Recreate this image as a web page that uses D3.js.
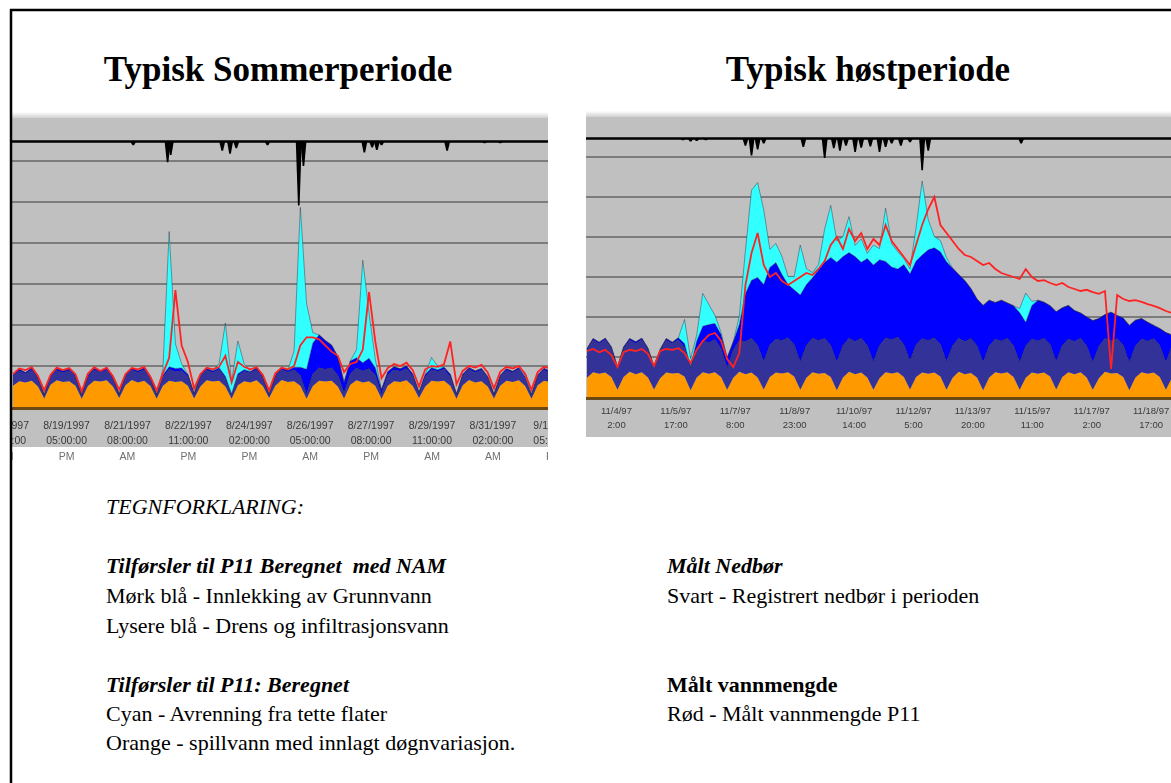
<!DOCTYPE html>
<html lang="no">
<head>
<meta charset="UTF-8" />
<title>Typisk sommer- og høstperiode</title>
<script src="https://d3js.org/d3.v7.min.js"></script>
<style>
  body { margin: 0; background: #fff; }
  svg { display: block; }
  .title { font-family: "Liberation Serif", "Times New Roman", serif; font-weight: bold; font-size: 35px; text-anchor: middle; }
  .legend { font-family: "Liberation Serif", "Times New Roman", serif; font-size: 22px; fill: #000; white-space: pre; }
</style>
</head>
<body>
<svg id="canvas" width="1171" height="783"></svg>
<script>
// sommerperiode: ett punkt hver 4. time fra 18.08.1997 kl 07:00
const summerStart = new Date(1997, 7, 18, 7);
const summerEnd = new Date(1997, 8, 1, 13, 36);
const summerOrange = [
  52,63,60,64,50,21, 54,65,61,63,52,20, 51,64,62,65,50,22, 53,66,60,64,51,20,
  52,64,61,63,52,21, 50,65,62,64,50,20, 53,63,60,65,51,22, 52,66,61,63,52,20,
  51,64,62,64,50,21, 54,65,60,63,52,20, 52,63,61,65,51,22, 50,64,62,64,52,20,
  53,66,60,63,50,21, 52,64,61,65,51,20, 53,64,61];
const summerNavy = [
  22,25,21,27,19,8, 20,24,23,26,21,9, 23,26,22,25,20,8, 21,24,24,27,19,9,
  22,28,25,26,22,10, 24,25,22,28,20,9, 23,24,23,26,21,8, 22,26,24,28,25,12,
  30,32,30,32,28,14, 28,30,28,31,26,12, 26,28,26,29,24,11, 24,27,25,28,22,10,
  23,26,24,27,21,9, 22,25,23,27,20,9, 22,26,23];
const summerBlue = [
  3,4,3,4,3,1, 3,4,4,4,3,1, 3,4,3,5,3,1, 3,4,4,4,3,1,
  4,6,8,6,5,2, 3,4,4,4,5,3, 5,4,3,4,3,1, 3,4,4,6,20,60,
  75,80,70,55,45,25, 30,25,20,25,18,10, 8,7,6,6,5,3, 5,5,4,5,6,2,
  4,4,4,4,3,1, 3,4,3,4,3,1, 3,4,3];
const summerCyan = [
  0,0,0,0,0,0, 0,0,0,0,0,0, 0,0,0,0,0,0, 0,0,0,0,0,0,
  15,330,60,10,0,0, 0,0,0,10,130,30, 80,15,0,0,0,0, 0,0,0,40,390,160,
  25,0,0,0,0,0, 0,20,250,110,20,0, 0,0,0,0,0,0, 0,25,8,0,0,0,
  0,0,0,0,0,0, 0,0,0,0,10,0, 0,0,0];
const summerRed = [
  80,94,90,97,76,40, 78,96,90,95,80,38, 82,97,88,96,75,42, 80,95,92,98,74,40,
  82,120,285,150,110,45, 80,96,92,98,125,60, 110,98,92,97,78,40, 82,96,92,100,150,170,
  170,165,150,135,125,85, 105,110,140,280,160,70, 95,105,100,108,90,50, 92,100,98,104,160,55,
  88,100,96,103,84,45, 86,98,94,100,80,42, 85,98,94];
const summerRainHour = [77, 99, 101, 134, 139, 143, 163, 183, 186, 225, 230, 233, 236, 278, 302, 312];
const summerRainMm = [0.6, 3.4, 2.2, 1.5, 2.0, 1.1, 0.6, 10.5, 4.0, 1.8, 1.0, 1.4, 0.6, 1.5, 0.3, 0.3];
const summerTicks = ["1997-08-18 02:00", "1997-08-19 17:00", "1997-08-21 08:00", "1997-08-22 23:00",
  "1997-08-24 14:00", "1997-08-26 05:00", "1997-08-27 20:00", "1997-08-29 11:00",
  "1997-08-31 02:00", "1997-09-01 17:00"];

// høstperiode: ett punkt hver 4. time fra 03.11.1997 kl 07:00
const autumnStart = new Date(1997, 10, 3, 7);
const autumnEnd = new Date(1997, 10, 19, 7);
const autumnOrange = [
  48,62,58,61,50,18, 50,63,57,62,49,19, 47,61,59,60,51,17, 49,62,58,62,50,18,
  48,63,57,61,49,19, 50,61,59,62,51,18, 48,62,58,60,50,17, 49,63,57,61,49,18,
  47,62,59,62,50,19, 50,61,58,61,51,18, 48,63,57,60,49,17, 49,62,59,62,50,18,
  48,61,58,61,51,19, 50,62,57,62,49,18, 47,63,59,60,50,17, 49,62,58,61,50,18, 48];
const autumnNavy = [
  70,80,76,82,72,55, 72,79,77,81,70,56, 69,81,75,83,73,54, 71,80,78,82,71,55,
  70,79,82,86,80,70, 80,84,82,86,80,70, 81,85,83,87,79,71, 80,84,82,86,80,70,
  82,86,84,88,81,72, 81,85,83,87,80,71, 80,84,82,86,79,70, 79,83,81,85,78,69,
  80,84,82,86,80,70, 79,83,82,85,79,69, 80,84,81,86,80,70, 79,83,82,85,79,69, 80];
const autumnBlue = [
  3,4,3,4,3,2, 3,4,4,4,3,2, 3,4,3,5,10,5, 20,35,45,40,35,25,
  20,40,120,145,170,192, 194,191,165,133,137,167, 152,151,177,190,220,249, 222,214,212,190,217,242,
  214,191,182,170,200,217, 209,209,227,225,232,249, 194,159,152,125,117,142, 114,91,102,88,100,124,
  59,84,102,90,97,124, 94,84,77,63,72,104, 69,59,72,58,67,92, 64,51,47,33,42,74, 27];
const autumnCyan = [
  0,0,0,0,0,0, 0,0,0,0,0,0, 0,0,0,0,60,20, 15,82,50,20,5,0,
  0,20,107,225,237,187, 45,48,45,20,33,125, 40,13,13,83,130,53, 50,90,28,58,13,50,
  28,133,58,43,15,12, 83,185,75,28,28,10, 0,0,0,0,0,0, 0,0,0,0,0,10,
  73,10,0,0,0,0, 0,0,0,0,0,0, 0,0,0,0,0,0, 0,0,0,0,0,0, 0];
const autumnRed = [
  115,120,112,118,105,75, 112,118,115,120,108,78, 115,120,118,122,110,85, 118,140,155,160,140,95,
  75,110,280,360,410,330, 300,310,290,280,290,300, 310,305,320,340,380,400, 370,420,390,410,370,395,
  380,430,390,370,350,330, 380,430,470,500,430,410, 390,370,355,350,340,330, 335,320,310,305,300,295,
  320,300,290,292,285,280, 285,275,270,265,268,262, 258,265,70,255,245,240, 242,238,232,228,222,215, 210];
const autumnRainHour = [63, 68, 72, 78, 104, 108, 112, 116, 142, 156, 162, 166, 170, 176, 180, 186, 192, 196, 200, 206, 212, 220, 224, 285];
const autumnRainMm = [0.3, 0.5, 0.4, 0.3, 1.2, 2.8, 1.8, 0.8, 1.4, 3.2, 1.6, 2.0, 1.2, 2.2, 1.5, 1.3, 2.2, 1.4, 0.8, 1.2, 0.6, 5.2, 2.0, 0.8];
const autumnTicks = ["1997-11-04 02:00", "1997-11-05 17:00", "1997-11-07 08:00", "1997-11-08 23:00",
  "1997-11-10 14:00", "1997-11-12 05:00", "1997-11-13 20:00", "1997-11-15 11:00",
  "1997-11-17 02:00", "1997-11-18 17:00"];

const seriesKeys = ["orange", "navy", "blue", "cyan"];
const seriesColors = { orange: "#ff9900", navy: "#333399", blue: "#0000ff", cyan: "#33ffff" };

const parseTick = d3.timeParse("%Y-%m-%d %H:%M");
const svg = d3.select("#canvas");
const defs = svg.append("defs");
defs.append("filter").attr("id", "soft").append("feGaussianBlur").attr("stdDeviation", 0.6);
defs.append("filter").attr("id", "softText").append("feGaussianBlur").attr("stdDeviation", 0.45);
const grad = defs.append("linearGradient").attr("id", "topfade").attr("x1", 0).attr("x2", 0).attr("y1", 0).attr("y2", 1);
grad.append("stop").attr("offset", 0).attr("stop-color", "#ffffff");
grad.append("stop").attr("offset", 1).attr("stop-color", "#d0d0d0");

function drawChart(cfg) {
  const clipId = "clip-" + cfg.id;
  defs.append("clipPath").attr("id", clipId)
    .append("rect").attr("x", cfg.left).attr("y", cfg.top - 6)
    .attr("width", cfg.right - cfg.left).attr("height", cfg.imgBottom - cfg.top + 6);

  const g = svg.append("g").attr("clip-path", `url(#${clipId})`);

  const x = d3.scaleTime().domain([cfg.start, cfg.end]).range([cfg.left + 1, cfg.xEnd]);
  const y = d3.scaleLinear().domain([0, 700]).range([cfg.zeroY, cfg.zeroY - 7 * cfg.gridPx]);
  const rain = d3.scaleLinear().domain([0, 10]).range([cfg.rainY, cfg.rainY + 61]);

  // bakgrunn
  g.append("rect").attr("x", cfg.left).attr("y", cfg.top - 6).attr("width", cfg.right - cfg.left).attr("height", 6)
    .attr("fill", "url(#topfade)");
  g.append("rect").attr("x", cfg.left).attr("y", cfg.top).attr("width", cfg.right - cfg.left)
    .attr("height", cfg.grayBottom - cfg.top).attr("fill", "#c0c0c0");

  const plot = g.append("g").attr("filter", "url(#soft)");

  // rutenett
  plot.selectAll(".grid").data([100, 200, 300, 400, 500, 600]).enter().append("line")
    .attr("x1", cfg.left).attr("x2", cfg.right)
    .attr("y1", (d) => y(d)).attr("y2", (d) => y(d))
    .attr("stroke", "#7c7c7c").attr("stroke-width", 2);

  // nedbør, henger ned fra toppen
  plot.append("line").attr("x1", cfg.left).attr("x2", cfg.right)
    .attr("y1", cfg.rainY).attr("y2", cfg.rainY)
    .attr("stroke", "#000").attr("stroke-width", 2.5);
  const rainData = cfg.rainHour.map((h, i) => ({ date: d3.timeHour.offset(cfg.start, h), mm: cfg.rainMm[i] }));
  plot.selectAll(".rain").data(rainData).enter().append("path")
    .attr("fill", "#000")
    .attr("d", (d) => {
      const cx = x(d.date), b = rain(0), t = rain(d.mm);
      return `M${cx - 3},${b} L${cx + 3},${b} L${cx + 0.8},${t} L${cx - 0.8},${t} Z`;
    });

  // stablede arealer
  const table = cfg.orange.map((v, i) => ({
    date: d3.timeHour.offset(cfg.start, 4 * i),
    orange: v, navy: cfg.navy[i], blue: cfg.blue[i], cyan: cfg.cyan[i], red: cfg.red[i]
  }));
  const stacked = d3.stack().keys(seriesKeys)(table);
  const area = d3.area().x((d) => x(d.data.date)).y0((d) => y(d[0])).y1((d) => y(d[1]));
  const topLine = d3.line().x((d) => x(d.data.date)).y((d) => y(d[1]));
  plot.selectAll(".layer").data(stacked).enter().append("path")
    .attr("fill", (d) => seriesColors[d.key]).attr("d", area);
  plot.selectAll(".edge").data(stacked.slice(1)).enter().append("path")
    .attr("fill", "none").attr("stroke", "#22223a").attr("stroke-width", 0.7).attr("stroke-opacity", 0.6)
    .attr("d", topLine);

  // målt vannmengde
  plot.append("path").datum(table)
    .attr("fill", "none").attr("stroke", "#ff2424").attr("stroke-width", 1.8)
    .attr("d", d3.line().x((d) => x(d.date)).y((d) => y(d.red)));

  // bunnlinje
  plot.append("line").attr("x1", cfg.left).attr("x2", cfg.right)
    .attr("y1", cfg.zeroY + 1.5).attr("y2", cfg.zeroY + 1.5)
    .attr("stroke", "#6a4812").attr("stroke-width", 3);

  // tidsakse
  const ax = g.append("g").attr("transform", `translate(0,${cfg.zeroY})`)
    .attr("filter", "url(#softText)")
    .call(d3.axisBottom(x).tickValues(cfg.ticks.map(parseTick)).tickSize(0).tickFormat(() => ""));
  ax.select(".domain").remove();
  ax.selectAll(".tick text").remove();
  ax.selectAll(".tick").each(function (d) {
    const t = d3.select(this);
    cfg.rows.forEach((row) => {
      t.append("text").attr("y", row.dy).attr("text-anchor", "middle")
        .attr("font-family", "'Liberation Sans', Arial, sans-serif")
        .attr("font-size", cfg.labelSize).attr("fill", row.color)
        .text(d3.timeFormat(row.fmt)(d));
    });
  });
}

drawChart({
  id: "summer", left: 12, right: 548, xEnd: 548, top: 118, grayBottom: 447, imgBottom: 470,
  zeroY: 407, gridPx: 41, rainY: 141.5,
  start: summerStart, end: summerEnd,
  orange: summerOrange, navy: summerNavy, blue: summerBlue, cyan: summerCyan, red: summerRed,
  rainHour: summerRainHour, rainMm: summerRainMm, ticks: summerTicks, labelSize: 10.5,
  rows: [
    { fmt: "%-m/%-d/%Y", dy: 22, color: "#3a3a3a" },
    { fmt: "%I:%M:%S", dy: 37, color: "#3a3a3a" },
    { fmt: "%p", dy: 53, color: "#707070" }
  ]
});

drawChart({
  id: "autumn", left: 586, right: 1171, xEnd: 1172, top: 117, grayBottom: 437, imgBottom: 440,
  zeroY: 397, gridPx: 40, rainY: 138.5,
  start: autumnStart, end: autumnEnd,
  orange: autumnOrange, navy: autumnNavy, blue: autumnBlue, cyan: autumnCyan, red: autumnRed,
  rainHour: autumnRainHour, rainMm: autumnRainMm, ticks: autumnTicks, labelSize: 9.5,
  rows: [
    { fmt: "%-m/%-d/%y", dy: 17, color: "#3a3a3a" },
    { fmt: "%-H:%M", dy: 31, color: "#3a3a3a" }
  ]
});

// ramme
svg.append("line").attr("x1", 11).attr("x2", 11).attr("y1", 9).attr("y2", 783).attr("stroke", "#000").attr("stroke-width", 2.5);
svg.append("line").attr("x1", 10).attr("x2", 1171).attr("y1", 10).attr("y2", 10).attr("stroke", "#000").attr("stroke-width", 2.5);

// titler
svg.append("text").attr("class", "title").attr("x", 278).attr("y", 81).text("Typisk Sommerperiode");
svg.append("text").attr("class", "title").attr("x", 868).attr("y", 81).text("Typisk høstperiode");

// tegnforklaring
const legendLines = [
  { x: 106, y: 514, text: "TEGNFORKLARING:", style: "italic", weight: "normal" },
  { x: 106, y: 573, text: "Tilførsler til P11 Beregnet  med NAM", style: "italic", weight: "bold" },
  { x: 106, y: 603, text: "Mørk blå - Innlekking av Grunnvann", style: "normal", weight: "normal" },
  { x: 106, y: 633, text: "Lysere blå - Drens og infiltrasjonsvann", style: "normal", weight: "normal" },
  { x: 106, y: 692, text: "Tilførsler til P11: Beregnet", style: "italic", weight: "bold" },
  { x: 106, y: 721, text: "Cyan - Avrenning fra tette flater", style: "normal", weight: "normal" },
  { x: 106, y: 750, text: "Orange - spillvann med innlagt døgnvariasjon.", style: "normal", weight: "normal" },
  { x: 667, y: 573, text: "Målt Nedbør", style: "italic", weight: "bold" },
  { x: 667, y: 603, text: "Svart - Registrert nedbør i perioden", style: "normal", weight: "normal" },
  { x: 667, y: 692, text: "Målt vannmengde", style: "normal", weight: "bold" },
  { x: 667, y: 721, text: "Rød - Målt vannmengde P11", style: "normal", weight: "normal" }
];
svg.selectAll(".legend").data(legendLines).enter().append("text")
  .attr("class", "legend")
  .attr("x", (d) => d.x).attr("y", (d) => d.y)
  .attr("font-style", (d) => d.style).attr("font-weight", (d) => d.weight)
  .text((d) => d.text);
</script>
</body>
</html>
